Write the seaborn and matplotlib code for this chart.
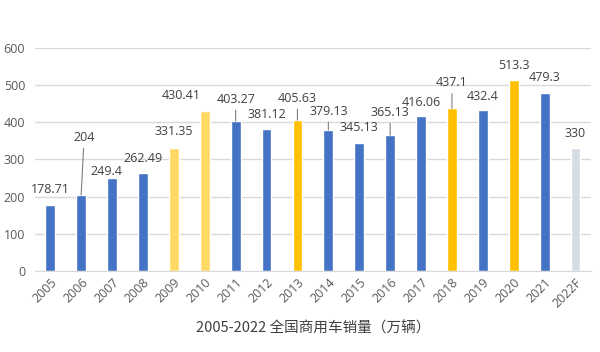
import matplotlib
matplotlib.use("Agg")
import matplotlib.pyplot as plt
import seaborn as sns

# Data
years = ["2005", "2006", "2007", "2008", "2009", "2010", "2011", "2012", "2013",
         "2014", "2015", "2016", "2017", "2018", "2019", "2020", "2021", "2022F"]
sales = [178.71, 204, 249.4, 262.49, 331.35, 430.41, 403.27, 381.12, 405.63,
         379.13, 345.13, 365.13, 416.06, 437.1, 432.4, 513.3, 479.3, 330]
value_labels = ["178.71", "204", "249.4", "262.49", "331.35", "430.41", "403.27", "381.12",
                "405.63", "379.13", "345.13", "365.13", "416.06", "437.1", "432.4",
                "513.3", "479.3", "330"]
y_ticks = [0, 100, 200, 300, 400, 500, 600]
title = "2005-2022 全国商用车销量（万辆）"

blue, pale_gold, gold, grey = "#4472C4", "#FFD966", "#FFC000", "#D6DCE5"
colors = [blue, blue, blue, blue, pale_gold, pale_gold, blue, blue, gold,
          blue, blue, blue, blue, gold, blue, gold, blue, grey]

# label centre offsets from bar top (pixels) and whether a leader line is drawn
dx = [0, 3, -6, 0, 0, -24, 0, 0, 0, 0, 0, 0, 0, 0, 0, 0, 0, 0]
dy = [15, 58, 7, 15, 16, 15, 22, 15, 22, 19, 15, 23, 14, 26, 14, 15, 15, 15]
leaders = [False, True, False, False, False, False, True, False, True,
           True, False, True, False, True, False, False, False, False]

sns.set_style("white")
plt.rcParams["font.family"] = ["Open Sans", "Noto Sans CJK SC", "DejaVu Sans"]

fig = plt.figure(figsize=(6, 3.52), dpi=100)
ax = fig.add_axes([0.058, 0.230, 0.927, 0.634])

sns.barplot(x=years, y=sales, hue=years, palette=colors, legend=False,
            width=0.32, saturation=1, ax=ax)

for i, (v, lab) in enumerate(zip(sales, value_labels)):
    arrow = None
    if leaders[i]:
        arrow = dict(arrowstyle="-", color="#7F7F7F", lw=0.8, shrinkA=1, shrinkB=0)
    ax.annotate(lab, xy=(i, v), xytext=(dx[i], dy[i]), textcoords="offset pixels",
                ha="center", va="center", fontsize=9, color="#404040",
                arrowprops=arrow)

ax.set_ylim(0, 600)
ax.set_xlim(-0.5, len(years) - 0.5)
ax.set_yticks(y_ticks)
ax.yaxis.grid(True, color="#D9D9D9", lw=1)
ax.set_axisbelow(True)
for s in ["top", "right", "left"]:
    ax.spines[s].set_visible(False)
ax.spines["bottom"].set_color("#D9D9D9")
ax.tick_params(axis="both", length=0, colors="#595959", labelsize=9)
ax.tick_params(axis="y", pad=7)
plt.setp(ax.get_xticklabels(), rotation=45, ha="right", rotation_mode="anchor")
ax.set_xlabel(title, fontsize=10.5, color="#404040", family=["Noto Sans CJK SC", "DejaVu Sans"],
              labelpad=8)
ax.set_ylabel("")

fig.savefig("out.png", dpi=100)
